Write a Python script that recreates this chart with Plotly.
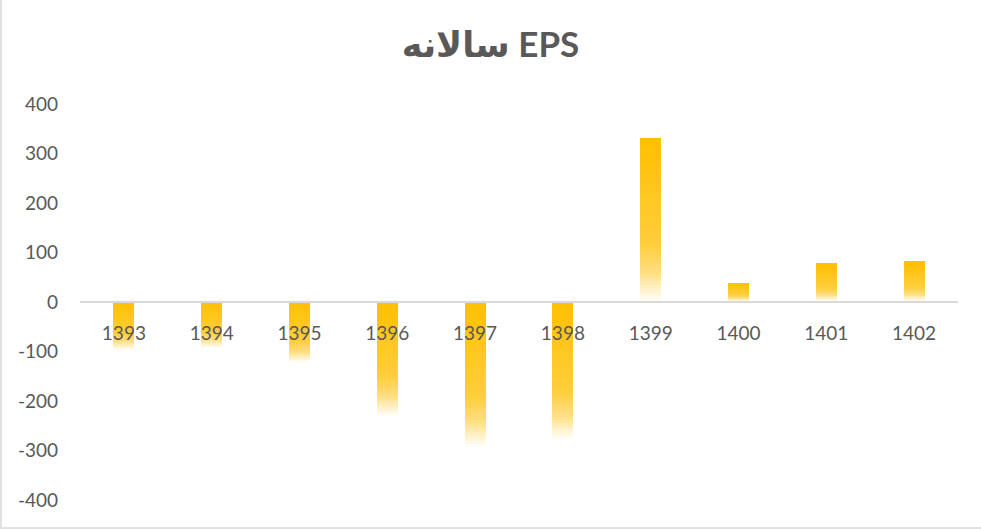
import plotly.graph_objects as go

years = ["1393", "1394", "1395", "1396", "1397", "1398", "1399", "1400", "1401", "1402"]
eps = [-97, -93, -123, -232, -293, -279, 331, 38, 77, 81]
y_ticks = [-400, -300, -200, -100, 0, 100, 200, 300, 400]
y_tick_text = ["-400", "-300", "-200", "-100", "0", "100", "200", "300", "400"]

W, H = 981, 530
ML, MR, MT, MB = 80, 23, 104, 30
N_SEG = 48


def grad(t):
    # gold at the top of each bar, fading to white at the bottom
    stops = [(0.0, (255, 192, 0)), (0.65, (255, 206, 60)), (0.82, (255, 222, 130)), (1.0, (255, 255, 255))]
    for (t0, c0), (t1, c1) in zip(stops, stops[1:]):
        if t <= t1:
            f = (t - t0) / (t1 - t0)
            c = [round(a + (b - a) * f) for a, b in zip(c0, c1)]
            return "rgb(%d,%d,%d)" % tuple(c)
    return "rgb(255,255,255)"


fig = go.Figure()
for k in range(N_SEG):
    bases, heights = [], []
    for v in eps:
        top = max(v, 0)
        seg = abs(v) / N_SEG
        bases.append(top - (k + 1) * seg)
        heights.append(seg * 1.05 if k < N_SEG - 1 else seg)
    fig.add_trace(go.Bar(
        x=years, y=heights, base=bases, width=0.24,
        marker=dict(color=grad((k + 0.5) / N_SEG), line=dict(width=0)),
        showlegend=False, hoverinfo="skip",
    ))

# chart frame (left and bottom edges are visible in the crop)
plot_w = W - ML - MR
plot_h = H - MT - MB
fig.add_shape(type="path", xref="paper", yref="paper",
              path="M %f,%f L %f,%f L %f,%f" % (
                  -(ML - 1) / plot_w, 1 + MT / plot_h,
                  -(ML - 1) / plot_w, -(MB - 2) / plot_h,
                  1 + MR / plot_w, -(MB - 2) / plot_h),
              line=dict(color="#d9d9d9", width=1.5))

fig.update_layout(
    width=W, height=H,
    barmode="overlay",
    bargap=0,
    plot_bgcolor="white",
    paper_bgcolor="white",
    margin=dict(l=ML, r=MR, t=MT, b=MB),
    font=dict(family="Lato, DejaVu Sans", color="#595959", size=19),
    title=dict(
        text="<b>سالانه EPS</b>",
        x=0.5, xanchor="center",
        y=1 - 45 / H, yanchor="middle",
        font=dict(family="Lato, DejaVu Sans", size=35, color="#595959"),
    ),
    xaxis=dict(
        type="category",
        anchor="free", position=0.5,
        showline=True, linecolor="#d9d9d9", linewidth=1.5,
        showgrid=False, ticks="", ticklabelstandoff=14,
        tickfont=dict(size=19, color="#595959"),
    ),
    yaxis=dict(
        range=[-400, 400],
        tickvals=y_ticks, ticktext=y_tick_text,
        showgrid=False, zeroline=False, showline=False,
        ticks="", ticklabelstandoff=21,
        tickfont=dict(size=19, color="#595959"),
    ),
)

fig.write_html("out.html", config={"displayModeBar": False},
               post_script="document.body.style.margin='0';")
